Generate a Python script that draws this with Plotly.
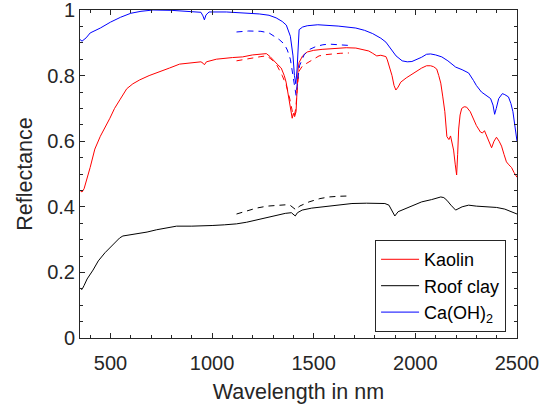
import plotly.graph_objects as go

# Ca(OH)2 (blue) solid
ca_wl = [350, 360, 380, 400, 450, 500, 550, 600, 650, 710, 800, 900, 945, 955, 962, 970, 985, 1070, 1150, 1232, 1280, 1315, 1345, 1365, 1385, 1398, 1405, 1412, 1418, 1423, 1428, 1445, 1468, 1520, 1560, 1620, 1707, 1750, 1790, 1830, 1855, 1880, 1905, 1935, 1960, 1983, 2010, 2031, 2055, 2075, 2100, 2130, 2160, 2198, 2230, 2262, 2286, 2300, 2325, 2350, 2370, 2382, 2390, 2398, 2410, 2428, 2440, 2458, 2470, 2480, 2490, 2500]
ca_val = [0.91, 0.905, 0.915, 0.93, 0.945, 0.963, 0.978, 0.99, 0.996, 1.0, 0.999, 0.996, 0.993, 0.982, 0.97, 0.985, 0.994, 0.994, 0.992, 0.988, 0.984, 0.976, 0.965, 0.954, 0.92, 0.86, 0.8, 0.775, 0.82, 0.9, 0.94, 0.948, 0.952, 0.955, 0.954, 0.951, 0.945, 0.938, 0.928, 0.914, 0.902, 0.88, 0.86, 0.845, 0.842, 0.843, 0.849, 0.856, 0.865, 0.866, 0.863, 0.857, 0.845, 0.826, 0.818, 0.808, 0.785, 0.77, 0.75, 0.738, 0.73, 0.71, 0.682, 0.7, 0.73, 0.745, 0.742, 0.735, 0.715, 0.69, 0.64, 0.6]
# Ca(OH)2 dashed
ca_d_wl = [1120, 1180, 1240, 1280, 1305, 1330, 1355, 1370, 1385, 1398, 1408, 1413, 1420, 1430, 1453, 1480, 1512, 1545, 1575, 1620, 1673]
ca_d_val = [0.933, 0.936, 0.935, 0.93, 0.92, 0.91, 0.896, 0.878, 0.85, 0.8, 0.75, 0.74, 0.78, 0.83, 0.864, 0.88, 0.889, 0.894, 0.896, 0.895, 0.892]

# Kaolin (red) solid
ka_wl = [350, 360, 370, 383, 400, 423, 450, 497, 520, 546, 580, 610, 644, 690, 742, 790, 840, 900, 945, 955, 962, 972, 1021, 1100, 1150, 1198, 1230, 1267, 1285, 1296, 1320, 1340, 1355, 1364, 1378, 1389, 1394, 1400, 1406, 1413, 1418, 1423, 1428, 1445, 1468, 1500, 1541, 1610, 1660, 1707, 1740, 1771, 1790, 1810, 1830, 1845, 1855, 1862, 1875, 1885, 1895, 1904, 1915, 1928, 1955, 1983, 2010, 2031, 2055, 2075, 2090, 2105, 2115, 2125, 2135, 2145, 2155, 2165, 2173, 2180, 2188, 2196, 2203, 2208, 2213, 2220, 2228, 2240, 2252, 2270, 2286, 2300, 2320, 2330, 2340, 2355, 2375, 2387, 2399, 2412, 2424, 2436, 2448, 2460, 2473, 2485, 2500]
ka_val = [0.45, 0.445, 0.455, 0.48, 0.52, 0.576, 0.615, 0.67, 0.70, 0.726, 0.76, 0.775, 0.787, 0.80, 0.811, 0.823, 0.835, 0.84, 0.842, 0.838, 0.833, 0.842, 0.85, 0.855, 0.857, 0.863, 0.864, 0.867, 0.858, 0.85, 0.835, 0.823, 0.8, 0.78, 0.73, 0.695, 0.67, 0.685, 0.675, 0.69, 0.768, 0.82, 0.84, 0.86, 0.872, 0.877, 0.88, 0.884, 0.885, 0.884, 0.88, 0.875, 0.868, 0.86, 0.862, 0.86, 0.858, 0.848, 0.82, 0.8, 0.77, 0.756, 0.765, 0.78, 0.793, 0.805, 0.815, 0.823, 0.83, 0.83, 0.827, 0.82, 0.80, 0.777, 0.735, 0.69, 0.614, 0.605, 0.616, 0.6, 0.573, 0.53, 0.497, 0.56, 0.637, 0.68, 0.70, 0.705, 0.704, 0.69, 0.668, 0.648, 0.628, 0.625, 0.632, 0.61, 0.58, 0.6, 0.612, 0.6, 0.585, 0.56, 0.537, 0.528, 0.52, 0.505, 0.49]
# Kaolin dashed
ka_d_wl = [1120, 1160, 1200, 1240, 1265, 1285, 1300, 1320, 1345, 1365, 1380, 1395, 1404, 1412, 1420, 1428, 1445, 1468, 1500, 1526, 1560, 1590, 1630, 1673]
ka_d_val = [0.845, 0.85, 0.855, 0.858, 0.86, 0.853, 0.845, 0.83, 0.80, 0.77, 0.735, 0.69, 0.677, 0.70, 0.77, 0.814, 0.83, 0.838, 0.85, 0.86, 0.864, 0.866, 0.868, 0.869]

# Roof clay (black) solid
rc_wl = [350, 360, 370, 385, 414, 440, 473, 500, 521, 545, 561, 600, 629, 680, 727, 780, 825, 900, 953, 1000, 1060, 1120, 1170, 1218, 1270, 1316, 1360, 1390, 1400, 1409, 1420, 1443, 1490, 1541, 1600, 1688, 1760, 1820, 1850, 1870, 1885, 1899, 1915, 1933, 1980, 2031, 2080, 2125, 2140, 2155, 2175, 2198, 2230, 2262, 2300, 2350, 2400, 2440, 2470, 2500]
rc_val = [0.152, 0.148, 0.16, 0.18, 0.207, 0.235, 0.26, 0.278, 0.29, 0.305, 0.311, 0.315, 0.317, 0.323, 0.33, 0.336, 0.341, 0.341, 0.341, 0.343, 0.345, 0.348, 0.353, 0.36, 0.368, 0.375, 0.38, 0.382, 0.378, 0.372, 0.382, 0.39, 0.396, 0.40, 0.405, 0.41, 0.411, 0.411, 0.41, 0.405, 0.39, 0.372, 0.385, 0.39, 0.402, 0.415, 0.422, 0.43, 0.428, 0.42, 0.405, 0.39, 0.4, 0.405, 0.402, 0.40, 0.398, 0.393, 0.385, 0.378]
# Roof clay dashed
rc_d_wl = [1120, 1170, 1218, 1270, 1316, 1360, 1385, 1400, 1414, 1430, 1477, 1530, 1575, 1620, 1673]
rc_d_val = [0.378, 0.388, 0.396, 0.402, 0.405, 0.406, 0.404, 0.398, 0.39, 0.402, 0.415, 0.425, 0.43, 0.432, 0.433]

x_ticks = [500, 1000, 1500, 2000, 2500]
y_ticks = [0, 0.2, 0.4, 0.6, 0.8, 1]

RED, BLACK, BLUE = "#FF0000", "#000000", "#0000FF"
FONT = "Liberation Sans, Arial, sans-serif"
AX = "#262626"

fig = go.Figure()
fig.add_trace(go.Scatter(x=ka_wl, y=ka_val, mode="lines", name="Kaolin",
                         line=dict(color=RED, width=1)))
fig.add_trace(go.Scatter(x=rc_wl, y=rc_val, mode="lines", name="Roof clay",
                         line=dict(color=BLACK, width=1)))
fig.add_trace(go.Scatter(x=ca_wl, y=ca_val, mode="lines", name="Ca(OH)<sub>2</sub>",
                         line=dict(color=BLUE, width=1)))
fig.add_trace(go.Scatter(x=ka_d_wl, y=ka_d_val, mode="lines", showlegend=False,
                         line=dict(color=RED, width=1, dash="6px,5px")))
fig.add_trace(go.Scatter(x=rc_d_wl, y=rc_d_val, mode="lines", showlegend=False,
                         line=dict(color=BLACK, width=1, dash="6px,5px")))
fig.add_trace(go.Scatter(x=ca_d_wl, y=ca_d_val, mode="lines", showlegend=False,
                         line=dict(color=BLUE, width=1, dash="6px,5px")))

axis_common = dict(
    showline=True, linecolor=AX, linewidth=1, mirror="ticks",
    ticks="inside", ticklen=5, tickcolor=AX, tickwidth=1,
    showgrid=False, zeroline=False, automargin=False,
    ticklabeloverflow="allow",
    tickfont=dict(family=FONT, size=20, color=AX),
)

fig.update_layout(
    width=553, height=406,
    margin=dict(l=80, r=36, t=10, b=68),
    paper_bgcolor="white", plot_bgcolor="white",
    font=dict(family=FONT, color=AX),
    xaxis=dict(range=[350, 2500], tickvals=x_ticks, ticklabelstandoff=7,
               minor=dict(dtick=100, tick0=0, ticks="inside", ticklen=3, tickcolor=AX),
               title=dict(text="Wavelength in nm", font=dict(family=FONT, size=21.5, color=AX), standoff=10),
               **axis_common),
    yaxis=dict(range=[0, 1], tickvals=y_ticks,
               minor=dict(dtick=0.05, tick0=0, ticks="inside", ticklen=3, tickcolor=AX),
               title=dict(text="Reflectance", font=dict(family=FONT, size=21.5, color=AX), standoff=8),
               **axis_common),
    legend=dict(x=0.975, y=0.018, xanchor="right", yanchor="bottom",
                bgcolor="white", bordercolor=AX, borderwidth=1,
                font=dict(family=FONT, size=18, color="#000000"),
                tracegroupgap=0, itemwidth=38),
    showlegend=True,
)

fig.write_html("out.html", config={"displayModeBar": False},
               post_script="document.body.style.margin='0px';")
